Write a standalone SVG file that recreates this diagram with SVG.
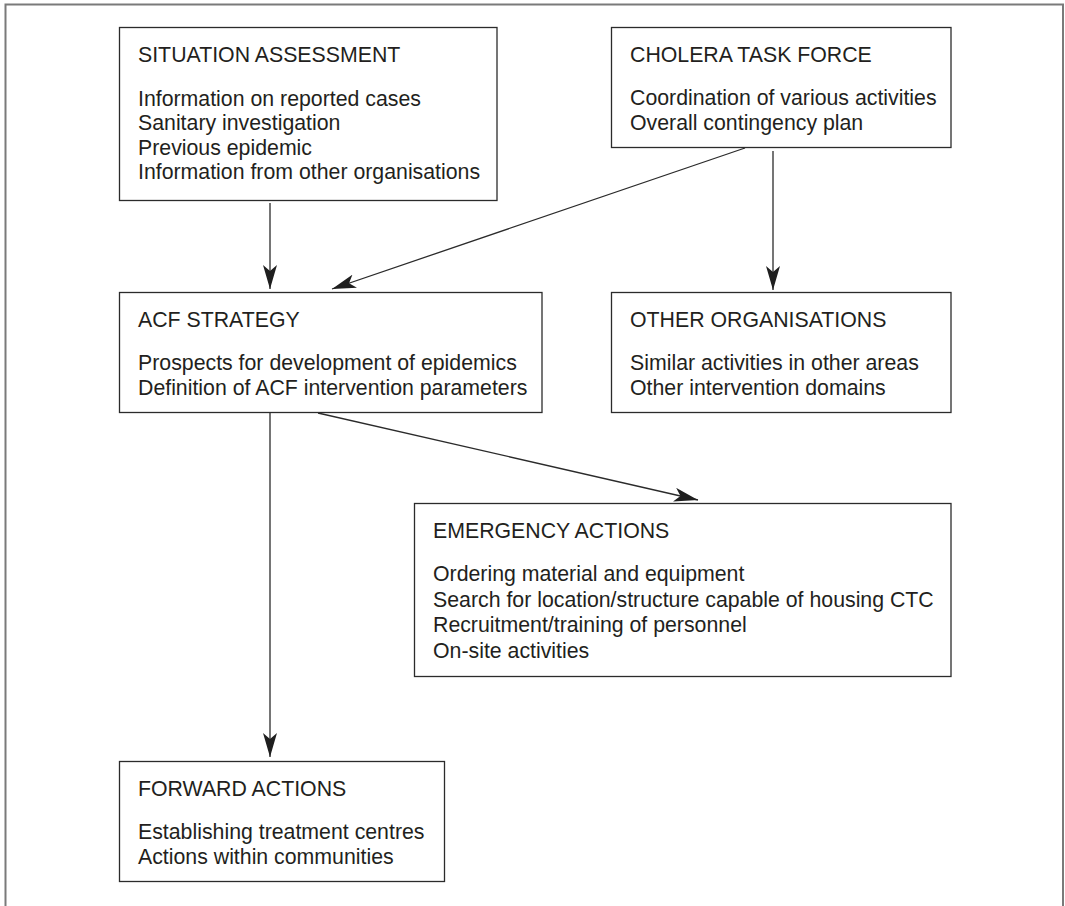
<svg xmlns="http://www.w3.org/2000/svg" width="1065" height="906" viewBox="0 0 1065 906">
<style>
  .box { fill: #ffffff; stroke: #2b2b2b; stroke-width: 1.3; }
  .t { font-family: "Liberation Sans", Arial, Helvetica, sans-serif; font-size: 21.3px; fill: #231f20; }
  .conn { stroke: #2b2b2b; stroke-width: 1.3; fill: none; }
  .frame { stroke: #7a7a7a; stroke-width: 2; fill: none; }
</style>
<defs>
  <marker id="arr" markerUnits="userSpaceOnUse" viewBox="0 0 24 14" refX="24" refY="7" markerWidth="24" markerHeight="14" orient="auto">
    <path d="M0,0 L24,7 L0,14 L6,7 Z" fill="#1f1f1f"/>
  </marker>
</defs>
<rect x="0" y="0" width="1065" height="906" fill="#ffffff"/>
<path class="frame" d="M5.5,906 V4.5 H1063 V906"/>

<g id="connectors">
  <line class="conn" x1="270" y1="203" x2="270" y2="289" marker-end="url(#arr)"/>
  <line class="conn" x1="745" y1="148" x2="332" y2="289" marker-end="url(#arr)"/>
  <line class="conn" x1="773" y1="151" x2="773" y2="290" marker-end="url(#arr)"/>
  <line class="conn" x1="318" y1="413" x2="698" y2="500" marker-end="url(#arr)"/>
  <line class="conn" x1="270" y1="413" x2="270" y2="757" marker-end="url(#arr)"/>
</g>

<g id="situation-assessment">
  <rect class="box" x="119.5" y="27.5" width="377.5" height="173"/>
  <text class="t" x="138" y="62">SITUATION ASSESSMENT</text>
  <text class="t" x="138" y="105.5">Information on reported cases</text>
  <text class="t" x="138" y="130">Sanitary investigation</text>
  <text class="t" x="138" y="154.5">Previous epidemic</text>
  <text class="t" x="138" y="179">Information from other organisations</text>
</g>

<g id="cholera-task-force">
  <rect class="box" x="611.5" y="27.5" width="339.5" height="120"/>
  <text class="t" x="630" y="62">CHOLERA TASK FORCE</text>
  <text class="t" x="630" y="105">Coordination of various activities</text>
  <text class="t" x="630" y="130">Overall contingency plan</text>
</g>

<g id="acf-strategy">
  <rect class="box" x="119.5" y="292.5" width="422.5" height="120"/>
  <text class="t" x="138" y="327">ACF STRATEGY</text>
  <text class="t" x="138" y="369.5">Prospects for development of epidemics</text>
  <text class="t" x="138" y="395">Definition of ACF intervention parameters</text>
</g>

<g id="other-organisations">
  <rect class="box" x="611.5" y="292.5" width="339.5" height="120"/>
  <text class="t" x="630" y="327">OTHER ORGANISATIONS</text>
  <text class="t" x="630" y="369.5">Similar activities in other areas</text>
  <text class="t" x="630" y="395">Other intervention domains</text>
</g>

<g id="emergency-actions">
  <rect class="box" x="414.5" y="503.5" width="536.5" height="173"/>
  <text class="t" x="433" y="538">EMERGENCY ACTIONS</text>
  <text class="t" x="433" y="581">Ordering material and equipment</text>
  <text class="t" x="433" y="606.5">Search for location/structure capable of housing CTC</text>
  <text class="t" x="433" y="632">Recruitment/training of personnel</text>
  <text class="t" x="433" y="657.5">On-site activities</text>
</g>

<g id="forward-actions">
  <rect class="box" x="119.5" y="761.5" width="325" height="120"/>
  <text class="t" x="138" y="796">FORWARD ACTIONS</text>
  <text class="t" x="138" y="838.5">Establishing treatment centres</text>
  <text class="t" x="138" y="864">Actions within communities</text>
</g>
</svg>
